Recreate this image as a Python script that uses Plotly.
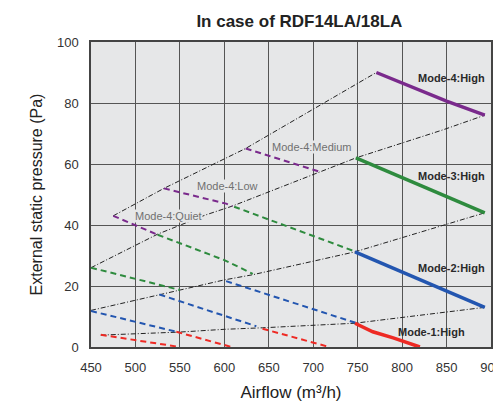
import plotly.graph_objects as go

# system curves (black dash-dot), airflow m3/h vs pressure Pa
curve1_x = [461, 550, 600, 643, 747, 893]
curve1_y = [3.9, 4.9, 5.8, 6.3, 7.8, 13.0]
curve2_x = [450, 527, 550, 600, 632, 747, 893]
curve2_y = [12.0, 17.2, 18.7, 22.0, 23.7, 31.2, 44.0]
curve3_x = [450, 525, 579, 609, 748, 846, 893]
curve3_y = [26.0, 37.0, 43.3, 46.2, 62.0, 71.2, 76.0]
curve4_x = [475, 532, 624, 771]
curve4_y = [43.0, 52.0, 65.1, 90.0]

# Mode-4 (purple dashed)
m4_quiet_x, m4_quiet_y = [475, 525], [43.0, 36.8]
m4_low_x, m4_low_y = [532, 602, 609], [52.0, 47.0, 46.2]
m4_med_x, m4_med_y = [624, 709], [65.1, 57.3]
m4_high_x, m4_high_y = [771, 801, 850, 893], [90.0, 86.5, 80.6, 76.0]

# Mode-3 (green dashed)
m3_quiet_x, m3_quiet_y = [450, 550], [26.0, 18.7]
m3_low_x, m3_low_y = [525, 600, 632], [36.8, 28.5, 24.0]
m3_med_x, m3_med_y = [611, 750], [46.0, 31.0]
m3_high_x, m3_high_y = [748, 893], [62.0, 44.0]

# Mode-2 (blue dashed)
m2_quiet_x, m2_quiet_y = [450, 549], [11.8, 4.8]
m2_low_x, m2_low_y = [527, 600, 636], [17.2, 10.2, 6.8]
m2_med_x, m2_med_y = [602, 749], [21.6, 7.8]
m2_high_x, m2_high_y = [747, 893], [31.2, 13.0]

# Mode-1 (red dashed)
m1_quiet_x, m1_quiet_y = [461, 550], [4.0, 0.0]
m1_low_x, m1_low_y = [546, 608], [5.0, 0.0]
m1_med_x, m1_med_y = [643, 718], [6.0, 0.0]
m1_high_x, m1_high_y = [747, 767, 790, 820], [7.8, 5.0, 3.0, 0.0]

x_ticks = [450, 500, 550, 600, 650, 700, 750, 800, 850, 900]
y_ticks = [0, 20, 40, 60, 80, 100]

PURPLE = "#7a2a8c"
GREEN = "#2e8b3e"
BLUE = "#2356b0"
RED = "#ee2a24"
BG = "#e6e7e8"

fig = go.Figure()


def add(x, y, color, width, dash):
    fig.add_trace(go.Scatter(x=x, y=y, mode="lines", hoverinfo="skip",
                             line=dict(color=color, width=width, dash=dash)))


for cx, cy in [(curve1_x, curve1_y), (curve2_x, curve2_y),
               (curve3_x, curve3_y), (curve4_x, curve4_y)]:
    add(cx, cy, "#222222", 1, "5px,2px,1px,2px")

for color, segs in [
    (PURPLE, [(m4_quiet_x, m4_quiet_y), (m4_low_x, m4_low_y), (m4_med_x, m4_med_y)]),
    (GREEN, [(m3_quiet_x, m3_quiet_y), (m3_low_x, m3_low_y), (m3_med_x, m3_med_y)]),
    (BLUE, [(m2_quiet_x, m2_quiet_y), (m2_low_x, m2_low_y), (m2_med_x, m2_med_y)]),
    (RED, [(m1_quiet_x, m1_quiet_y), (m1_low_x, m1_low_y), (m1_med_x, m1_med_y)]),
]:
    for sx, sy in segs:
        add(sx, sy, color, 2, "6px,4px")

add(m4_high_x, m4_high_y, PURPLE, 3.5, "solid")
add(m3_high_x, m3_high_y, GREEN, 3.5, "solid")
add(m2_high_x, m2_high_y, BLUE, 3.5, "solid")
add(m1_high_x, m1_high_y, RED, 3.5, "solid")

bold_labels = [("Mode-4:High", 895, 88.2, "right"),
               ("Mode-3:High", 895, 56.2, "right"),
               ("Mode-2:High", 895, 25.9, "right"),
               ("Mode-1:High", 833, 4.9, "center")]
for txt, x, y, anc in bold_labels:
    fig.add_annotation(x=x, y=y, text="<b>" + txt + "</b>", showarrow=False,
                       xanchor=anc, font=dict(size=11, color="#2a2a2a"))

gray_labels = [("Mode-4:Medium", 698, 65.6),
               ("Mode-4:Low", 603, 52.8),
               ("Mode-4:Quiet", 537, 43.0)]
for txt, x, y in gray_labels:
    fig.add_annotation(x=x, y=y, text=txt, showarrow=False, bgcolor=BG,
                       borderpad=0, font=dict(size=11, color="#707070"))

# page body has an 8px margin, so the figure is 8px smaller than the window
fig.update_layout(
    width=493, height=394,
    margin=dict(l=83, r=10, t=34, b=55),
    paper_bgcolor="white", plot_bgcolor=BG,
    showlegend=False,
    font=dict(family="Liberation Sans, Arial, sans-serif", color="#333333"),
    title=dict(text="<b>In case of RDF14LA/18LA</b>", x=0.591, xanchor="center",
               y=0.967, yanchor="middle", font=dict(size=17, color="#222222")),
)
fig.update_xaxes(range=[450, 900], tickvals=x_ticks, showgrid=True,
                 gridcolor="#555555", gridwidth=1.2, zeroline=False,
                 showline=True, linecolor="#444444", linewidth=1.5, mirror=True,
                 ticks="", ticklabelstandoff=8, automargin=False,
                 ticklabeloverflow="allow",
                 tickfont=dict(size=13, color="#333333"),
                 title=dict(text="Airflow (m³/h)", standoff=14,
                            font=dict(size=17, color="#222222")))
fig.update_yaxes(range=[0, 100], tickvals=y_ticks, showgrid=True,
                 gridcolor="#555555", gridwidth=1.2, zeroline=False,
                 showline=True, linecolor="#444444", linewidth=1.5, mirror=True,
                 ticks="", ticklabelstandoff=8, automargin=False,
                 tickfont=dict(size=13, color="#333333"),
                 title=dict(text="External static pressure (Pa)", standoff=10,
                            font=dict(size=16, color="#222222")))

fig.write_html("out.html")
